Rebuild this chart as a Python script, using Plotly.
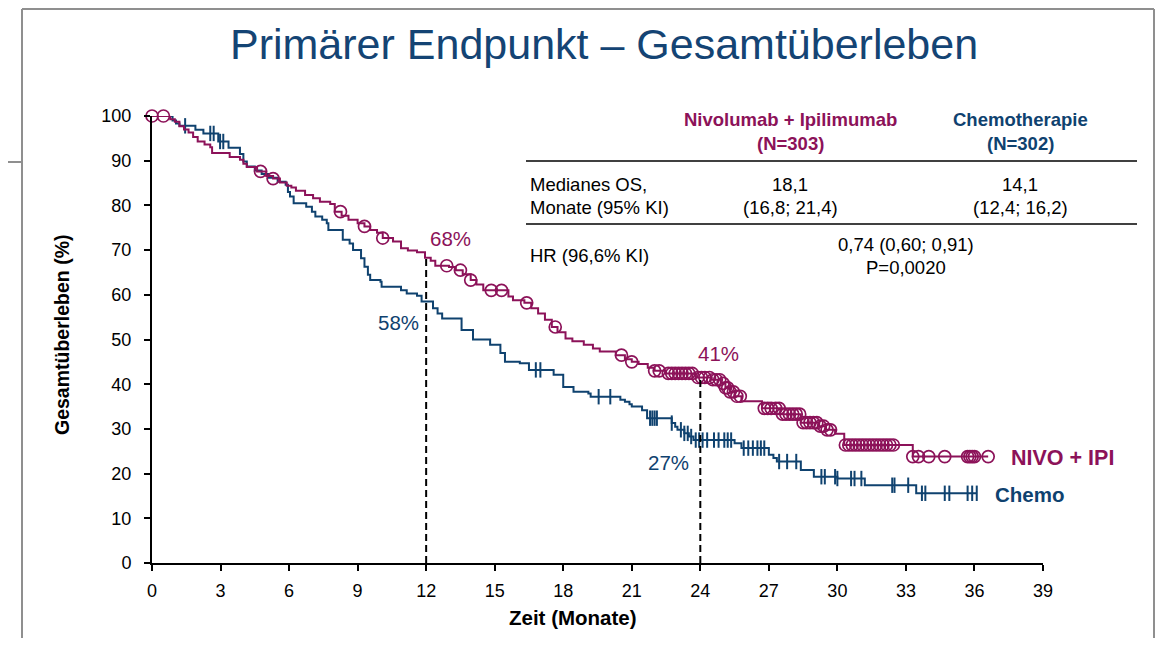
import plotly.graph_objects as go
import bisect

# ---------------- data ----------------
nivo_t = [0, 0.8, 1.0, 1.2, 1.4, 1.6, 1.8, 2.0, 2.3, 2.55, 2.63, 3.4, 3.85, 4.0, 4.15, 4.6, 5.0, 5.3,
          5.6, 5.9, 6.1, 6.3, 6.7, 7.05, 7.35, 7.8, 8.0, 8.3, 8.6, 9.0, 9.3, 9.55, 9.85, 10.1, 10.55,
          10.9, 11.2, 11.6, 11.95, 12.2, 12.4, 13.0, 13.3, 13.6, 13.95, 14.2, 14.5, 15.6, 15.8, 16.3,
          16.6, 16.9, 17.2, 17.5, 17.75, 18.1, 18.4, 18.9, 19.3, 19.6, 20.3, 20.7, 21.0, 21.3, 21.7,
          22.0, 22.5, 23.8, 24.5, 24.9, 25.1, 25.3, 25.5, 25.8, 26.7, 27.5, 28.4, 29.2, 29.5, 29.9,
          30.3, 33.3, 36.6]
nivo_s = [100, 99.3, 98.7, 97.7, 97.0, 96.3, 95.3, 94.3, 93.6, 93.0, 91.7, 90.8, 90.2, 89.3, 88.6, 87.6,
          86.6, 86.0, 85.1, 84.4, 84.0, 83.3, 82.3, 81.6, 80.8, 80.3, 78.6, 77.7, 76.8, 76.0, 75.3, 74.5,
          73.9, 72.7, 71.9, 70.4, 69.9, 69.5, 68.3, 67.6, 66.5, 66.2, 65.5, 64.6, 63.3, 62.3, 61.0, 59.6,
          58.8, 58.2, 57.0, 55.8, 54.4, 52.8, 51.6, 50.2, 49.6, 48.8, 48.0, 47.3, 46.5, 45.6, 45.0, 44.5,
          43.7, 43.0, 42.4, 41.5, 41.0, 40.2, 39.2, 38.3, 37.3, 36.2, 34.6, 33.3, 31.4, 30.6, 29.8, 28.9,
          26.4, 23.8, 23.8]
nivo_cens = [0, 0.5, 4.75, 5.3, 8.25, 9.3, 10.1, 12.9, 13.5, 13.95, 14.85, 15.3, 16.4, 17.65, 20.55, 21.0,
             22.0, 22.2, 22.6, 22.75, 22.9, 23.05, 23.2, 23.35, 23.5, 23.65, 23.9, 24.05, 24.2, 24.4, 24.55,
             24.7, 24.85, 25.0, 25.1, 25.2, 25.3, 25.45, 25.6, 25.75, 26.8, 26.95, 27.1, 27.3, 27.45, 27.6,
             27.75, 27.9, 28.05, 28.2, 28.35, 28.5, 28.65, 28.8, 28.95, 29.1, 29.25, 29.4, 29.55, 29.7,
             30.35, 30.5, 30.65, 30.8, 30.95, 31.1, 31.25, 31.4, 31.55, 31.7, 31.85, 32.0, 32.15, 32.3,
             32.45, 33.3, 33.55, 34.0, 34.7, 35.7, 35.8, 35.9, 36.0, 36.6]

chemo_t = [0, 0.9, 1.05, 1.2, 1.9, 2.25, 2.9, 3.35, 3.85, 4.0, 4.15, 4.5, 4.8, 5.1, 5.5, 5.85, 5.95, 6.04,
           6.2, 6.75, 7.0, 7.15, 7.45, 7.65, 7.72, 8.35, 8.65, 8.8, 9.15, 9.3, 9.45, 9.55, 10.0, 10.05,
           10.9, 11.15, 11.6, 11.8, 12.3, 12.5, 12.7, 13.55, 14.05, 14.8, 15.25, 15.45, 16.1, 16.5, 17.58,
           18.0, 18.45, 19.1, 19.2, 20.5, 20.7, 20.9, 21.0, 21.45, 21.67, 22.75, 22.9, 23.0, 23.3, 23.5,
           23.7, 25.5, 25.8, 27.0, 27.2, 27.35, 28.4, 28.97, 30.0, 31.2, 33.45, 36.1]
chemo_s = [100, 99.0, 98.3, 97.8, 96.9, 96.1, 94.3, 92.9, 91.5, 89.8, 88.7, 87.8, 87.0, 86.2, 85.3, 84.6,
           83.0, 82.0, 80.5, 79.7, 78.6, 77.5, 76.8, 76.0, 74.5, 72.3, 71.5, 70.0, 68.2, 66.3, 64.5, 63.3,
           62.9, 61.8, 61.0, 60.3, 59.8, 58.5, 57.0, 55.8, 54.7, 52.1, 50.0, 48.8, 47.0, 45.0, 44.7, 43.2,
           42.1, 39.4, 38.3, 37.9, 37.2, 36.5, 36.1, 35.5, 35.0, 34.2, 32.4, 31.3, 30.5, 29.8, 29.0, 28.3,
           27.5, 26.8, 25.7, 24.2, 23.5, 22.7, 20.8, 19.3, 18.9, 17.4, 15.6, 15.6]
chemo_cens = [1.45, 2.55, 2.7, 2.98, 3.12, 16.8, 17.0, 19.55, 20.06, 21.8, 21.9, 22.0, 22.1, 22.75, 23.15,
              23.3, 23.45, 23.6, 23.8, 23.95, 24.1, 24.3, 24.6, 24.8, 25.05, 25.2, 25.35, 25.9, 26.1, 26.3,
              26.5, 26.65, 26.8, 27.45, 27.8, 28.2, 29.3, 29.45, 29.9, 30.0, 30.6, 30.75, 31.05, 32.4, 32.5,
              33.1, 33.7, 33.85, 34.7, 34.9, 35.7, 35.9, 36.1]

landmarks = [12, 24]
nivo_landmark_labels = ["68%", "41%"]
chemo_landmark_labels = ["58%", "27%"]

x_ticks = list(range(0, 40, 3))
y_ticks = list(range(0, 101, 10))

# ---------------- style ----------------
PURPLE = "#8c1259"
BLUE = "#0f426f"
TITLE_BLUE = "#144474"
FONT = "Arial, Liberation Sans, sans-serif"

# page body has an 8px margin: work in screen pixels, convert to figure pixels
OFF = 8
W, H = 1170 - 2 * OFF, 646 - 2 * OFF
# plot area in screen pixels
L, R, T, B = 152, 1043, 116, 563


def px(x):
    return (x - L) / (R - L)


def py(y):
    return (B - y) / (B - T)


def step_at(ts, ss, t):
    i = bisect.bisect_right(ts, t) - 1
    return ss[max(i, 0)]


fig = go.Figure()

fig.add_trace(go.Scatter(x=chemo_t, y=chemo_s, mode="lines", line=dict(color=BLUE, width=2, shape="hv"),
                         hoverinfo="skip", showlegend=False, cliponaxis=False))
fig.add_trace(go.Scatter(x=chemo_cens, y=[step_at(chemo_t, chemo_s, t) for t in chemo_cens], mode="markers",
                         marker=dict(symbol="line-ns-open", size=11, color=BLUE, line=dict(color=BLUE, width=2)),
                         showlegend=False, cliponaxis=False))
fig.add_trace(go.Scatter(x=nivo_t, y=nivo_s, mode="lines", line=dict(color=PURPLE, width=2, shape="hv"),
                         hoverinfo="skip", showlegend=False, cliponaxis=False))
fig.add_trace(go.Scatter(x=nivo_cens, y=[step_at(nivo_t, nivo_s, t) for t in nivo_cens], mode="markers",
                         marker=dict(symbol="circle-open", size=12, color=PURPLE, line=dict(color=PURPLE, width=1.7)),
                         showlegend=False, cliponaxis=False))

shapes = []
# landmark dashed lines
for lm in landmarks:
    top = step_at(nivo_t, nivo_s, lm)
    shapes.append(dict(type="line", xref="x", yref="y", x0=lm, x1=lm, y0=0, y1=top,
                       line=dict(color="black", width=2, dash="7px,4px")))
# table rules
for yy in (161, 224):
    shapes.append(dict(type="line", xref="paper", yref="paper", x0=px(526), x1=px(1137), y0=py(yy), y1=py(yy),
                       line=dict(color="black", width=1.5)))
# slide frame
frame = [((22, 9), (22, 660)), ((22, 9), (1154, 9)), ((1154, 9), (1154, 660)), ((0, 162), (22, 162))]
for (a, b) in frame:
    shapes.append(dict(type="line", xref="paper", yref="paper", x0=px(a[0]), y0=py(a[1]), x1=px(b[0]), y1=py(b[1]),
                       line=dict(color="#8f8f8f", width=2)))

annotations = []


def text(xp, yp, s, size, color="black", bold=False, xanchor="center", **kw):
    if bold:
        s = "<b>" + s + "</b>"
    annotations.append(dict(x=px(xp), y=py(yp), xref="paper", yref="paper", text=s, showarrow=False,
                            font=dict(family=FONT, size=size, color=color), xanchor=xanchor, yanchor="middle", **kw))


# title
text(604, 44, "Primärer Endpunkt – Gesamtüberleben", 43, TITLE_BLUE)
# axis titles
text(62, 335, "Gesamtüberleben (%)", 19.5, bold=True, textangle=-90)
text(573, 617, "Zeit (Monate)", 20.5, bold=True)
# table
C1, C2, CM = 790, 1020, 906
text(C1, 119, "Nivolumab + Ipilimumab", 18.5, PURPLE, bold=True)
text(C1, 143, "(N=303)", 18.5, PURPLE, bold=True)
text(C2, 119, "Chemotherapie", 18.5, BLUE, bold=True)
text(C2, 143, "(N=302)", 18.5, BLUE, bold=True)
text(528, 184, "Medianes OS,", 18.5, xanchor="left")
text(528, 207, "Monate (95% KI)", 18.5, xanchor="left")
text(C1, 184, "18,1", 18.5)
text(C1, 207, "(16,8; 21,4)", 18.5)
text(C2, 184, "14,1", 18.5)
text(C2, 207, "(12,4; 16,2)", 18.5)
text(528, 256, "HR (96,6% KI)", 18.5, xanchor="left")
text(CM, 244, "0,74 (0,60; 0,91)", 18.5)
text(CM, 267, "P=0,0020", 18.5)
# curve labels
text(1009, 458, "NIVO + IPI", 21.5, PURPLE, bold=True, xanchor="left")
text(993, 494, "Chemo", 20.5, BLUE, bold=True, xanchor="left")

# landmark percentage labels (data coords)
nivo_lbl_pos = [(13.05, 72.7), (24.8, 46.8)]
chemo_lbl_pos = [(10.8, 53.9), (22.6, 22.4)]
for (xx, yy), s in zip(nivo_lbl_pos, nivo_landmark_labels):
    annotations.append(dict(x=xx, y=yy, xref="x", yref="y", text=s, showarrow=False,
                            font=dict(family=FONT, size=20.5, color=PURPLE)))
for (xx, yy), s in zip(chemo_lbl_pos, chemo_landmark_labels):
    annotations.append(dict(x=xx, y=yy, xref="x", yref="y", text=s, showarrow=False,
                            font=dict(family=FONT, size=20.5, color=BLUE)))

axis_common = dict(showline=True, linewidth=2, linecolor="black", ticks="outside", ticklen=6, tickwidth=2,
                   tickcolor="black", showgrid=False, zeroline=False,
                   tickfont=dict(family=FONT, size=18, color="black"))

fig.update_layout(
    width=W, height=H,
    margin=dict(l=L - OFF, r=(W + OFF) - R, t=T - OFF, b=(H + OFF) - B, pad=0),
    paper_bgcolor="white", plot_bgcolor="white",
    xaxis=dict(range=[0, 39], tickvals=x_ticks, ticklabelstandoff=4, **axis_common),
    yaxis=dict(range=[0, 100], tickvals=y_ticks, ticklabelstandoff=9, **axis_common),
    shapes=shapes, annotations=annotations,
    showlegend=False,
)

fig.write_html("out.html")
